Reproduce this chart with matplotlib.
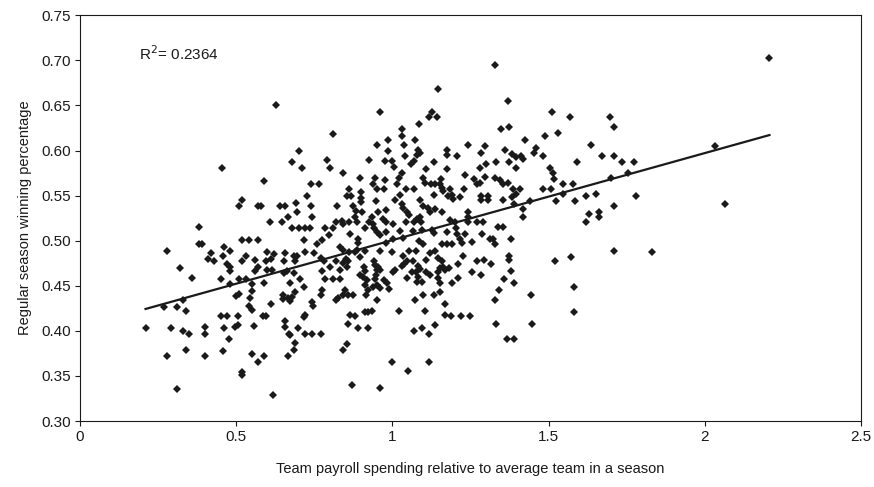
import numpy as np
import matplotlib
matplotlib.use("Agg")
import matplotlib.pyplot as plt

plt.rcParams['font.family'] = ['Liberation Sans', 'DejaVu Sans']

# payroll relative to average (x) and winning percentage (y)
payroll = [
    # left group
    0.455, 0.52, 0.51, 0.57, 0.38,
    0.52, 0.54, 0.57, 0.38, 0.39,
    0.28, 0.46, 0.48, 0.42, 0.41, 0.457,
    0.53, 0.52, 0.43, 0.56, 0.47, 0.48, 0.48,
    0.32, 0.57, 0.56, 0.36, 0.45, 0.51, 0.53, 0.48,
    0.55, 0.55, 0.51, 0.50, 0.33, 0.27, 0.31, 0.545,
    0.54, 0.55, 0.34, 0.45, 0.47, 0.505,
    0.21, 0.29, 0.33, 0.35,
    0.40, 0.40, 0.46, 0.495, 0.505, 0.556,
    0.476, 0.34, 0.457, 0.277, 0.40,
    0.55, 0.57, 0.52, 0.52, 0.31,
    # 0.6 - 1.0 upper
    0.627, 0.96, 0.81, 0.70, 0.95, 0.985, 0.985,
    0.68, 0.71, 0.79, 0.80, 0.926, 0.977,
    0.843, 0.59, 0.74, 0.766, 0.897,
    0.944, 0.937, 0.95, 0.977, 0.974,
    0.726, 0.86, 0.854, 0.868,
    0.90, 0.90, 0.90, 0.947,
    0.58, 0.64, 0.655, 0.69, 0.695, 0.74, 0.822,
    0.873, 0.884, 0.904, 0.955, 0.98,
    0.665, 0.742, 0.607, 0.646,
    0.88, 0.886, 0.934, 0.925, 0.939, 0.97, 0.98,
    0.82, 0.838, 0.843, 0.86,
    0.68, 0.70, 0.72, 0.737, 0.785, 0.81, 0.913, 0.94,
    # 0.6 - 1.0 lower
    0.796, 0.865, 0.95, 0.98,
    0.716, 0.776, 0.889, 0.889,
    0.96, 0.979, 0.96, 0.758,
    0.60, 0.62, 0.61, 0.595,
    0.657, 0.652, 0.684, 0.694, 0.687,
    0.72, 0.75, 0.833, 0.843, 0.862,
    0.879, 0.886, 0.913, 0.897,
    0.772, 0.78, 0.82,
    0.85, 0.857, 0.843,
    0.94, 0.944, 0.955, 0.95, 0.96,
    0.60, 0.615, 0.652, 0.662, 0.684,
    0.774, 0.80, 0.833, 0.854, 0.91, 0.913,
    0.897, 0.907, 0.918, 0.946, 0.944, 0.974, 0.982,
    0.588, 0.673, 0.705, 0.716,
    0.785, 0.81, 0.833, 0.774, 0.772,
    0.849, 0.843, 0.859, 0.875,
    0.913, 0.923, 0.939, 0.95, 0.96, 0.915,
    0.689, 0.649, 0.649, 0.666, 0.678, 0.673,
    0.611, 0.819, 0.827, 0.742, 0.747, 0.95,
    0.913, 0.923, 0.934, 0.585, 0.595,
    0.719, 0.716, 0.865, 0.88, 0.857,
    0.655, 0.657, 0.668, 0.673, 0.697,
    0.719, 0.742, 0.772, 0.891, 0.923,
    0.687, 0.684, 0.854, 0.843, 0.588, 0.665,
    0.87, 0.96, 0.617,
    # 1.0 - 1.4 upper
    1.33, 1.147, 1.37, 1.126, 1.118, 1.142, 1.086,
    1.032, 1.032, 1.347, 1.373, 1.072,
    1.038, 1.04, 1.243, 1.296, 1.285,
    1.081, 1.078, 1.089, 1.174, 1.174, 1.206,
    1.362, 1.383, 1.397, 0.998, 1.006,
    1.06, 1.07, 1.134, 1.28, 1.30, 1.333,
    1.373, 1.397, 1.107, 1.174,
    1.03, 1.021, 1.014, 1.234,
    1.099, 1.106, 1.123, 1.136, 1.156, 1.152,
    1.262, 1.27, 1.28, 1.298,
    1.33, 1.344, 1.355, 1.37,
    1.387, 1.397, 1.383,
    1.043, 1.024, 1.009, 1.07, 1.134,
    1.158, 1.163, 1.184, 1.19, 1.195, 1.179,
    1.216, 1.23,
    1.285, 1.307, 1.283, 1.307, 1.355, 1.39,
    1.088, 1.099, 1.113,
    1.03, 1.035, 1.046, 1.053,
    1.12, 1.136, 1.158, 1.078, 1.089,
    1.184, 1.20, 1.241, 1.241, 1.243,
    1.27, 1.29, 1.043, 1.07, 1.092,
    1.003, 1.339, 1.355,
    # 1.0 - 1.4 lower
    1.025, 1.035, 1.003,
    1.067, 1.094, 1.126, 1.134, 1.174,
    1.206, 1.204, 1.234, 1.216, 1.224, 1.287,
    1.312, 1.323, 1.33, 1.379,
    1.085, 1.099, 1.16, 1.174, 1.19, 1.256,
    0.998, 1.053, 1.075,
    1.035, 1.046, 1.038, 1.03, 1.067, 1.081,
    1.107, 1.12, 1.138,
    1.147, 1.158, 1.163, 1.17, 1.181, 1.152,
    1.209, 1.227, 1.27, 1.294, 1.315, 1.373, 1.373,
    1.009, 1.003,
    1.064, 1.075, 1.089, 1.083, 1.094, 1.078,
    1.046, 0.99, 1.107, 1.12,
    1.145, 1.147, 1.152, 1.192, 1.211,
    1.256, 1.285, 1.381, 1.358, 1.39, 1.341,
    1.099, 1.134, 1.152, 1.072, 1.17, 1.328,
    1.022, 1.104, 1.17, 1.187, 1.221, 1.248,
    1.333, 1.136, 1.094, 1.07, 1.118,
    1.366, 1.39, 0.998, 1.117, 1.049,
    # 1.4 and above
    1.511, 1.568, 1.697, 1.709, 1.53, 1.488, 1.426,
    1.461, 1.454, 1.482, 1.411, 1.419,
    1.637, 1.671, 1.709, 1.592, 1.735, 1.772,
    1.504, 1.514, 1.518, 1.546, 1.578, 1.70, 1.754,
    1.408, 1.482, 1.507, 1.546, 1.781, 1.619, 1.653,
    1.525, 1.586, 1.419, 1.419, 1.708,
    1.628, 1.66, 1.663, 1.621, 1.442,
    1.709, 1.571, 1.52, 1.58, 1.445, 1.58, 1.447, 1.83,
    2.207, 2.032, 2.064,
]

win_pct = [
    # left group
    0.581, 0.545, 0.539, 0.539, 0.515,
    0.501, 0.501, 0.501, 0.496, 0.496,
    0.489, 0.493, 0.489, 0.486, 0.480, 0.483,
    0.483, 0.477, 0.477, 0.479, 0.474, 0.471, 0.466,
    0.470, 0.471, 0.466, 0.459, 0.458, 0.458, 0.458, 0.452,
    0.452, 0.444, 0.441, 0.439, 0.434, 0.427, 0.427, 0.436,
    0.428, 0.423, 0.422, 0.416, 0.416, 0.416,
    0.403, 0.403, 0.400, 0.396,
    0.404, 0.396, 0.403, 0.404, 0.406, 0.405,
    0.391, 0.379, 0.378, 0.372, 0.372,
    0.374, 0.366, 0.354, 0.351, 0.335,
    # 0.6 - 1.0 upper
    0.650, 0.643, 0.618, 0.600, 0.606, 0.612, 0.600,
    0.587, 0.581, 0.589, 0.581, 0.590, 0.588,
    0.575, 0.566, 0.563, 0.563, 0.570,
    0.570, 0.563, 0.557, 0.567, 0.557,
    0.550, 0.557, 0.550, 0.550,
    0.554, 0.547, 0.543, 0.544,
    0.538, 0.538, 0.538, 0.542, 0.532, 0.538, 0.538,
    0.538, 0.533, 0.532, 0.532, 0.534,
    0.526, 0.526, 0.521, 0.521,
    0.526, 0.521, 0.526, 0.521, 0.519, 0.524, 0.521,
    0.521, 0.522, 0.519, 0.521,
    0.514, 0.514, 0.514, 0.514, 0.514, 0.514, 0.514, 0.514,
    # 0.6 - 1.0 lower
    0.506, 0.508, 0.510, 0.510,
    0.501, 0.501, 0.502, 0.497,
    0.506, 0.497, 0.489, 0.496,
    0.487, 0.485, 0.480, 0.477,
    0.486, 0.477, 0.483, 0.483, 0.477,
    0.487, 0.486, 0.493, 0.490, 0.487,
    0.487, 0.490, 0.489, 0.482,
    0.481, 0.477, 0.478,
    0.480, 0.477, 0.475,
    0.477, 0.473, 0.471, 0.467, 0.467,
    0.467, 0.467, 0.464, 0.466, 0.464,
    0.466, 0.471, 0.467, 0.471, 0.471, 0.466,
    0.462, 0.460, 0.456, 0.462, 0.458, 0.456, 0.453,
    0.453, 0.453, 0.457, 0.449,
    0.458, 0.458, 0.458, 0.445, 0.440,
    0.445, 0.440, 0.440, 0.440,
    0.451, 0.445, 0.449, 0.451, 0.447, 0.440,
    0.443, 0.440, 0.435, 0.436, 0.438, 0.433,
    0.430, 0.434, 0.436, 0.432, 0.428, 0.434,
    0.421, 0.421, 0.422, 0.416, 0.416,
    0.418, 0.415, 0.418, 0.416, 0.408,
    0.411, 0.404, 0.397, 0.395, 0.403,
    0.396, 0.396, 0.396, 0.403, 0.403,
    0.386, 0.379, 0.385, 0.379, 0.372, 0.372,
    0.340, 0.337, 0.329,
    # 1.0 - 1.4 upper
    0.695, 0.668, 0.655, 0.643, 0.637, 0.637, 0.630,
    0.624, 0.616, 0.624, 0.626, 0.612,
    0.606, 0.594, 0.606, 0.605, 0.597,
    0.601, 0.595, 0.597, 0.601, 0.595, 0.594,
    0.601, 0.596, 0.593, 0.588, 0.582,
    0.585, 0.588, 0.587, 0.581, 0.585, 0.587,
    0.587, 0.581, 0.579, 0.580,
    0.575, 0.570, 0.563, 0.573,
    0.570, 0.564, 0.563, 0.563, 0.569, 0.563,
    0.569, 0.563, 0.564, 0.571,
    0.570, 0.567, 0.563, 0.564,
    0.557, 0.552, 0.548,
    0.557, 0.551, 0.545, 0.557, 0.551,
    0.558, 0.555, 0.557, 0.551, 0.546, 0.550,
    0.548, 0.557,
    0.550, 0.550, 0.545, 0.545, 0.545, 0.541,
    0.545, 0.539, 0.536,
    0.541, 0.536, 0.532, 0.528,
    0.532, 0.535, 0.532, 0.524, 0.526,
    0.523, 0.521, 0.532, 0.526, 0.521,
    0.521, 0.521, 0.521, 0.521, 0.521,
    0.519, 0.515, 0.515,
    # 1.0 - 1.4 lower
    0.511, 0.503, 0.502,
    0.511, 0.512, 0.512, 0.509, 0.510,
    0.508, 0.514, 0.508, 0.502, 0.497, 0.508,
    0.502, 0.502, 0.496, 0.502,
    0.500, 0.496, 0.496, 0.496, 0.496, 0.499,
    0.488, 0.489, 0.489,
    0.483, 0.478, 0.474, 0.472, 0.477, 0.472,
    0.479, 0.486, 0.489,
    0.481, 0.477, 0.471, 0.467, 0.470, 0.470,
    0.474, 0.483, 0.477, 0.479, 0.474, 0.483, 0.479,
    0.467, 0.465,
    0.465, 0.465, 0.469, 0.460, 0.454, 0.454,
    0.459, 0.446, 0.465, 0.462,
    0.465, 0.459, 0.453, 0.453, 0.459,
    0.465, 0.462, 0.466, 0.458, 0.453, 0.445,
    0.440, 0.440, 0.443, 0.434, 0.430, 0.434,
    0.422, 0.422, 0.418, 0.416, 0.416, 0.416,
    0.408, 0.406, 0.403, 0.400, 0.396,
    0.391, 0.391, 0.366, 0.366, 0.356,
    # 1.4 and above
    0.643, 0.637, 0.637, 0.626, 0.620, 0.616, 0.612,
    0.603, 0.597, 0.594, 0.594, 0.591,
    0.606, 0.594, 0.594, 0.587, 0.587, 0.587,
    0.581, 0.575, 0.568, 0.563, 0.563, 0.570, 0.575,
    0.557, 0.557, 0.557, 0.552, 0.550, 0.550, 0.552,
    0.544, 0.544, 0.535, 0.526, 0.538,
    0.530, 0.532, 0.526, 0.521, 0.544,
    0.489, 0.482, 0.477, 0.449, 0.440, 0.421, 0.408, 0.487,
    0.703, 0.605, 0.541,
]

# linear trendline as drawn in the chart
trend_slope = 0.0966
trend_intercept = 0.404
r_squared = "0.2364"

payroll = np.array(payroll)
win_pct = np.array(win_pct)

fig = plt.figure(figsize=(8.74, 4.87), dpi=100)
ax = fig.add_axes([0.0915, 0.1355, 0.8936, 0.833])

ax.plot(payroll, win_pct, linestyle='none', marker='D', markersize=3.6,
        color='#1a1a1a', markeredgewidth=0)

xs = np.array([payroll.min(), payroll.max()])
ax.plot(xs, trend_slope * xs + trend_intercept, color='#1a1a1a', linewidth=1.6)

ax.set_xlim(0, 2.5)
ax.set_ylim(0.30, 0.75)
ax.set_xticks([0, 0.5, 1, 1.5, 2, 2.5])
ax.set_xticklabels(['0', '0.5', '1', '1.5', '2', '2.5'])
ax.set_yticks(np.arange(0.30, 0.751, 0.05))
ax.set_yticklabels(['%.2f' % v for v in np.arange(0.30, 0.751, 0.05)])
ax.tick_params(direction='out', length=3.5, width=0.8, labelsize=11, pad=3, colors='#1a1a1a')
for s in ax.spines.values():
    s.set_linewidth(0.8)
    s.set_color('#1a1a1a')

ax.text(0.19, 0.708, 'R$^2$= ' + r_squared, fontsize=11, color='#1a1a1a',
        va='center', ha='left')

ax.set_xlabel('Team payroll spending relative to average team in a season',
              fontsize=10.5, labelpad=13, color='#1a1a1a')
ax.set_ylabel('Regular season winning percentage', fontsize=10.5, labelpad=7,
              color='#1a1a1a')

fig.savefig('out.png', dpi=100)
